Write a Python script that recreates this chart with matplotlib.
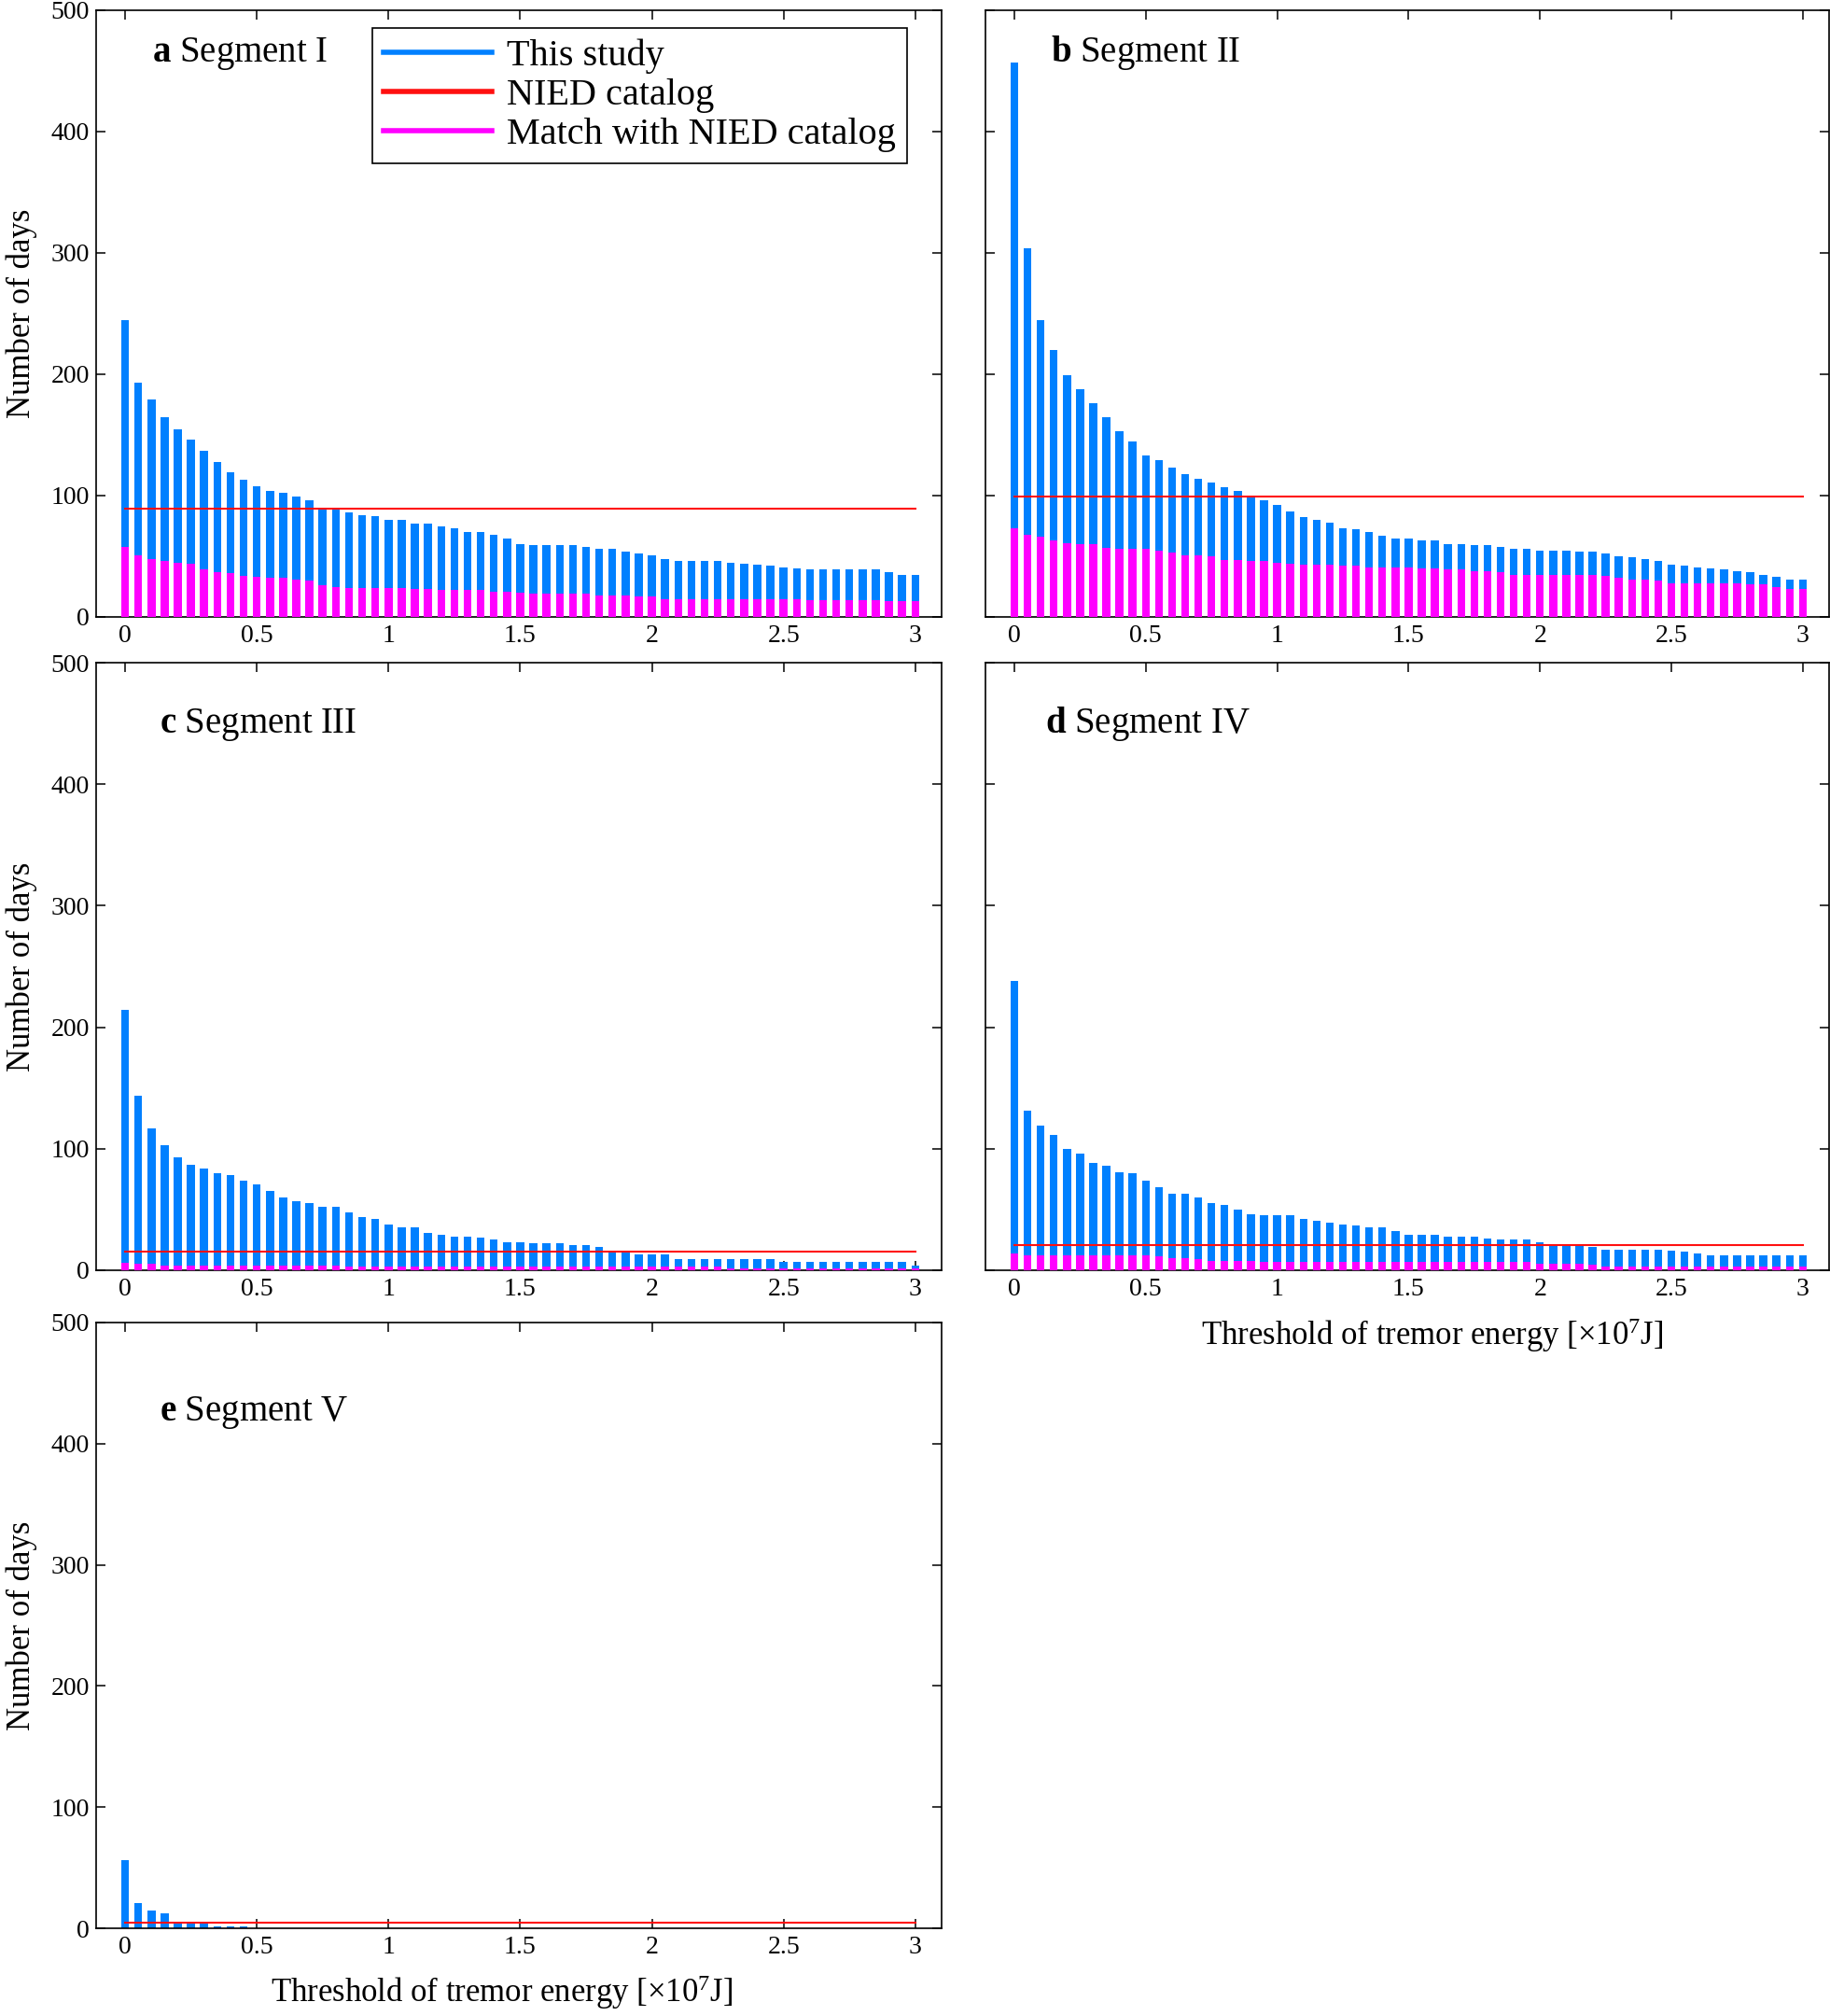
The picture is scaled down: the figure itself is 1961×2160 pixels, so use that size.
import numpy as np
import matplotlib
matplotlib.use("Agg")
import matplotlib.pyplot as plt
from matplotlib.ticker import FuncFormatter, MultipleLocator

plt.rcParams["font.family"] = ["Liberation Serif", "DejaVu Serif"]
plt.rcParams["mathtext.fontset"] = "custom"
plt.rcParams["mathtext.rm"] = "Liberation Serif"
plt.rcParams["mathtext.bf"] = "Liberation Serif:bold"
plt.rcParams["mathtext.it"] = "Liberation Serif:italic"

# energy thresholds (x10^7 J), one bar per 0.05 step
thresholds = np.round(np.arange(61) * 0.05, 2)

study_I = [245, 193, 179, 165, 155, 146, 137, 128, 119, 113,
           108, 104, 102, 99, 96, 89, 89, 86, 84, 83,
           80, 80, 77, 77, 75, 73, 70, 70, 68, 65,
           60, 59, 59, 59, 59, 58, 56, 56, 54, 52,
           51, 48, 46, 46, 46, 46, 45, 44, 43, 42,
           41, 40, 39, 39, 39, 39, 39, 39, 37, 35, 35]
match_I = [58, 51, 48, 46, 45, 44, 39, 37, 36, 34,
           33, 32, 32, 31, 30, 26, 25, 24, 24, 24,
           24, 24, 23, 23, 22, 22, 22, 22, 21, 21,
           20, 19, 19, 19, 19, 19, 18, 18, 18, 17,
           17, 15, 15, 15, 15, 15, 15, 15, 15, 15,
           15, 15, 14, 14, 14, 14, 14, 14, 13, 13, 13]

study_II = [457, 304, 245, 220, 199, 188, 176, 165, 153, 145,
            133, 129, 123, 118, 114, 111, 107, 104, 100, 96,
            92, 87, 82, 80, 78, 73, 72, 70, 67, 65,
            65, 63, 63, 60, 60, 59, 59, 58, 56, 56,
            55, 55, 55, 54, 54, 52, 50, 49, 48, 46,
            43, 42, 41, 40, 39, 38, 37, 35, 33, 31, 31]
match_II = [73, 68, 66, 63, 61, 60, 60, 57, 56, 56,
            56, 55, 53, 51, 51, 50, 47, 47, 46, 46,
            45, 44, 43, 43, 43, 42, 42, 41, 41, 41,
            41, 40, 40, 39, 39, 38, 38, 37, 35, 35,
            35, 35, 35, 35, 35, 34, 32, 31, 31, 30,
            28, 28, 28, 28, 28, 28, 27, 27, 25, 23, 23]

study_III = [214, 144, 117, 103, 93, 87, 84, 80, 78, 74,
             71, 65, 60, 57, 55, 52, 52, 48, 44, 42,
             38, 35, 35, 31, 29, 28, 28, 27, 25, 23,
             23, 22, 22, 22, 21, 21, 19, 16, 16, 13,
             13, 13, 9, 9, 9, 9, 9, 9, 9, 9,
             7, 7, 7, 7, 7, 7, 7, 7, 7, 7, 4]
match_III = [6, 5, 5, 4, 4, 4, 4, 4, 4, 4,
             4, 4, 4, 4, 4, 4, 4, 3, 3, 3,
             3, 3, 3, 3, 3, 3, 3, 3, 3, 3,
             3, 3, 3, 3, 3, 3, 3, 3, 3, 3,
             3, 3, 3, 3, 3, 3, 1.5, 1.5, 1.5, 1.5,
             1.5, 1.5, 1.5, 1.5, 1.5, 1.5, 1.5, 1.5, 1.5, 1.5, 1.5]

study_IV = [238, 131, 119, 111, 100, 96, 88, 86, 81, 80,
            74, 68, 63, 63, 60, 55, 54, 50, 46, 45,
            45, 45, 42, 41, 39, 38, 37, 35, 35, 32,
            29, 29, 29, 28, 28, 28, 26, 25, 25, 25,
            23, 21, 21, 21, 19, 17, 17, 17, 17, 17,
            16, 15, 14, 12, 12, 12, 12, 12, 12, 12, 12]
match_IV = [14, 12.5, 12.5, 12.5, 12.5, 12.5, 12.5, 12.5, 12.5, 12.5,
            12.5, 11.5, 10, 10, 9, 8, 8, 8, 8, 7,
            7, 7, 7, 7, 7, 7, 7, 7, 7, 7,
            7, 7, 7, 7, 7, 7, 7, 7, 7, 7,
            5.6, 5.6, 5.6, 5.6, 4.4, 3.3, 3.3, 3.3, 3.3, 3.3,
            3.3, 3.3, 3.3, 3.3, 3.3, 3.3, 3.3, 3.3, 3.3, 3.3, 3.3]

study_V = [56, 21, 15, 12, 4, 4, 4, 1.5, 1.5, 1.5,
           0, 0, 0, 0, 0, 0, 0, 0, 0, 0,
           0, 0, 0, 0, 0, 0, 0, 0, 0, 0,
           0, 0, 0, 0, 0, 0, 0, 0, 0, 0,
           0, 0, 0, 0, 0, 0, 0, 0, 0, 0,
           0, 0, 0, 0, 0, 0, 0, 0, 0, 0, 0]
match_V = [0, 0, 0, 0, 0, 0, 0, 0, 0, 0,
           0, 0, 0, 0, 0, 0, 0, 0, 0, 0,
           0, 0, 0, 0, 0, 0, 0, 0, 0, 0,
           0, 0, 0, 0, 0, 0, 0, 0, 0, 0,
           0, 0, 0, 0, 0, 0, 0, 0, 0, 0,
           0, 0, 0, 0, 0, 0, 0, 0, 0, 0, 0]

nied_days = [89, 99, 15.5, 21, 4.4]
letters = ["a", "b", "c", "d", "e"]
segments = ["Segment I", "Segment II", "Segment III", "Segment IV", "Segment V"]
study = [study_I, study_II, study_III, study_IV, study_V]
match = [match_I, match_II, match_III, match_IV, match_V]

BLUE = "#0080FF"
RED = "#FF1010"
MAGENTA = "#FF00FF"

W, H = 1961, 2160
fig = plt.figure(figsize=(W / 100, H / 100), dpi=100)

# axes boxes in pixels: left, top, right, bottom
boxes = [(103, 11, 1009, 661), (1056, 11, 1960, 661),
         (103, 710, 1009, 1361), (1056, 710, 1960, 1361),
         (103, 1417, 1009, 2066)]
title_y = [0.915, 0.915, 0.885, 0.885, 0.838]
title_x = [0.066, 0.077, 0.075, 0.071, 0.075]

axes = []
for i, (l, t, r, b) in enumerate(boxes):
    ax = fig.add_axes([l / W, 1 - b / H, (r - l) / W, (b - t) / H])
    axes.append(ax)
    ax.bar(thresholds, study[i], width=0.03, color=BLUE, zorder=2, label="This study")
    ax.bar(thresholds, match[i], width=0.03, color=MAGENTA, zorder=3)
    ax.plot([0, 3], [nied_days[i], nied_days[i]], color=RED, lw=1.5, zorder=4)

    ax.set_xlim(-0.11, 3.1)
    ax.set_ylim(0, 500)
    ax.xaxis.set_major_locator(MultipleLocator(0.5))
    ax.yaxis.set_major_locator(MultipleLocator(100))
    ax.xaxis.set_major_formatter(FuncFormatter(lambda v, p: "%g" % v))
    ax.tick_params(direction="in", top=True, right=True, length=7, width=1.1,
                   labelsize=20)
    ax.tick_params(axis="x", pad=6)
    ax.tick_params(axis="y", pad=5)
    for s in ax.spines.values():
        s.set_linewidth(1.2)
    if i in (1, 3):
        ax.set_yticklabels([])
    else:
        ax.set_ylabel("Number of days", fontsize=25)
        ax.yaxis.set_label_coords(-0.07, 0.5)

    ax.text(title_x[i], title_y[i], r"$\mathbf{%s}$ %s" % (letters[i], segments[i]),
            transform=ax.transAxes, fontsize=28, va="baseline", ha="left")

xlab = "Threshold of tremor energy [×10$^{7}$J]"
axes[3].set_xlabel(xlab, fontsize=25)
axes[3].xaxis.set_label_coords(0.53, -0.075)
axes[4].set_xlabel(xlab, fontsize=25)
axes[4].xaxis.set_label_coords(0.48, -0.075)

# legend on panel a
h = [plt.Line2D([], [], color=BLUE, lw=4),
     plt.Line2D([], [], color=RED, lw=4),
     plt.Line2D([], [], color=MAGENTA, lw=4)]
leg = axes[0].legend(h, ["This study", "NIED catalog", "Match with NIED catalog"],
                     loc="upper left", bbox_to_anchor=(0.327, 0.971), borderaxespad=0,
                     fontsize=29, handlelength=2.9, handletextpad=0.4,
                     labelspacing=0.13, borderpad=0.28, fancybox=False,
                     edgecolor="black", framealpha=1)
leg.get_frame().set_linewidth(1.2)

fig.savefig("out.png", dpi=100)
